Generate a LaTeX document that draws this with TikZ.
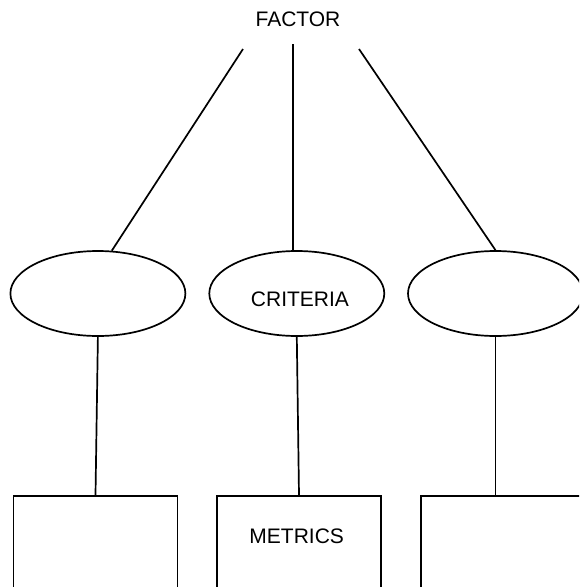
\documentclass[tikz,border=0pt]{standalone}
\usepackage{fontspec}
\setmainfont{Liberation Sans}
\usetikzlibrary{shapes.geometric,calc}
\begin{document}
\begin{tikzpicture}[x=1pt,y=-1pt,
  every node/.style={font=\fontsize{21}{25}\selectfont, inner sep=0pt},
  conn/.style={line width=1.7pt, black},
  crit/.style={draw, line width=1.7pt, ellipse, minimum width=175pt, minimum height=85pt},
  metr/.style={draw, line width=1.7pt, rectangle, minimum width=164pt, minimum height=130pt, anchor=north}]
\clip (0,0) rectangle (579,587);
\fill[white] (0,0) rectangle (579,587);
% top label
\node (fac) at (298,19.5) {FACTOR};
\coordinate (f1) at (243,49);
\coordinate (f2) at (293,44);
\coordinate (f3) at (359,49);
% criteria ellipses
\node[crit] (e1) at (97.9,293.5) {};
\node[crit] (e2) at (296.8,293.5) {};
\node[crit] (e3) at (495.5,293.5) {};
\node (ctext) at (300,299) {CRITERIA};
% metric boxes
\node[metr] (r1) at (95.5,495) {};
\node[metr] (r2) at (299,495) {};
\node[metr] (r3) at (503,495) {};
\node (mtext) at (296.7,536) {METRICS};
% connectors
\draw[conn] (f1) -- (e1.72);
\draw[conn] (f2) -- (e2.95);
\draw[conn] (f3) -- (e3.north);
\draw[conn] (e1.south) -- (r1.north);
\draw[conn] (e2.south) -- (r2.north);
\draw[conn] (e3.south) -- (e3.south |- r3.north);
\end{tikzpicture}
\end{document}
